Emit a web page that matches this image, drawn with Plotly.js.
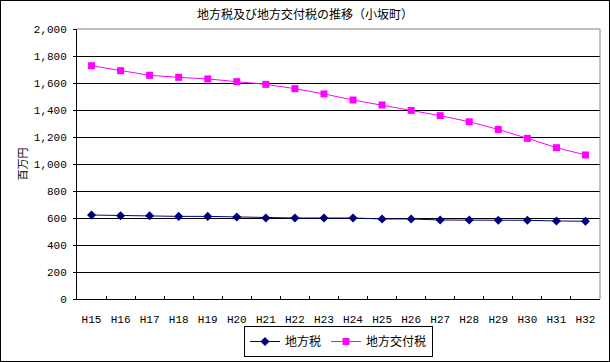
<!DOCTYPE html>
<html>
<head>
<meta charset="utf-8">
<script src="https://cdn.plot.ly/plotly-3.0.1.min.js"></script>
<style>
html,body{margin:0;padding:0;background:#fff;}
#wrap{position:relative;width:610px;height:362px;}
#chart{width:610px;height:362px;}
#frame{position:absolute;left:0;top:0;width:610px;height:362px;box-sizing:border-box;border:1px solid #000;pointer-events:none;}
</style>
</head>
<body>
<div id="wrap"><div id="chart"></div><div id="frame"></div></div>
<script>
const categories = ["H15","H16","H17","H18","H19","H20","H21","H22","H23","H24","H25","H26","H27","H28","H29","H30","H31","H32"];
const localTax = [622,617,617,612,612,607,600,600,600,600,593,593,585,585,583,583,578,576];
const allocationTax = [1728,1691,1657,1642,1630,1610,1590,1558,1519,1474,1437,1397,1358,1313,1256,1190,1121,1067];
const seriesNames = ["地方税","地方交付税"];
const chartTitle = "地方税及び地方交付税の推移（小坂町）";
const yTitle = "百万円";

const jp = '"Noto Sans CJK JP", "Noto Sans", sans-serif';
const mono = '"Liberation Mono", "DejaVu Sans Mono", monospace';

const traces = [
  {x: categories, y: localTax, name: seriesNames[0], type: 'scatter', mode: 'lines+markers',
   line: {color: '#000080', width: 1}, marker: {symbol: 'diamond', size: 7, color: '#000080'}},
  {x: categories, y: allocationTax, name: seriesNames[1], type: 'scatter', mode: 'lines+markers',
   line: {color: '#FF00FF', width: 1}, marker: {symbol: 'square', size: 7, color: '#FF00FF'}}
];

const layout = {
  width: 610, height: 362,
  margin: {l: 77, r: 10, t: 29, b: 63, autoexpand: false},
  paper_bgcolor: '#fff', plot_bgcolor: '#fff',
  showlegend: true,
  title: {text: chartTitle, font: {family: jp, size: 12, color: '#000'}, x: 0.5, xanchor: 'center', y: 1 - 15/362, yanchor: 'middle'},
  xaxis: {
    type: 'category', tickson: 'boundaries', ticks: 'inside', ticklen: 3, tickcolor: '#000',
    showline: true, linecolor: '#000', linewidth: 1, showgrid: false, zeroline: false,
    tickfont: {family: mono, size: 11, color: '#000'}, ticklabelstandoff: 10, tickangle: 0,
    automargin: false, range: [-0.5, 17.5]
  },
  yaxis: {
    range: [0, 2000], dtick: 200, tickformat: ',d', ticks: 'outside', ticklen: 3, tickcolor: '#000',
    showline: true, linecolor: '#000', linewidth: 1, showgrid: true, gridcolor: '#000', gridwidth: 1,
    zeroline: false, tickfont: {family: mono, size: 11, color: '#000'}, ticklabelstandoff: 4,
    automargin: false,
    title: {text: yTitle, font: {family: jp, size: 11, color: '#000'}, standoff: 3}
  },
  legend: {
    orientation: 'h', x: 0.5, xanchor: 'center', yref: 'container', y: 5 / 362, yanchor: 'bottom',
    bordercolor: '#000', borderwidth: 1, bgcolor: '#fff',
    font: {family: jp, size: 12, color: '#000'}, itemwidth: 30, tracegroupgap: 0
  },
  shapes: [
    {type: 'line', xref: 'paper', yref: 'paper', x0: 0, x1: 1, y0: 1, y1: 1, line: {color: '#808080', width: 1}},
    {type: 'line', xref: 'paper', yref: 'paper', x0: 1, x1: 1, y0: 0, y1: 1, line: {color: '#808080', width: 1}}
  ]
};

Plotly.newPlot('chart', traces, layout, {displayModeBar: false, staticPlot: true});
</script>
</body>
</html>
